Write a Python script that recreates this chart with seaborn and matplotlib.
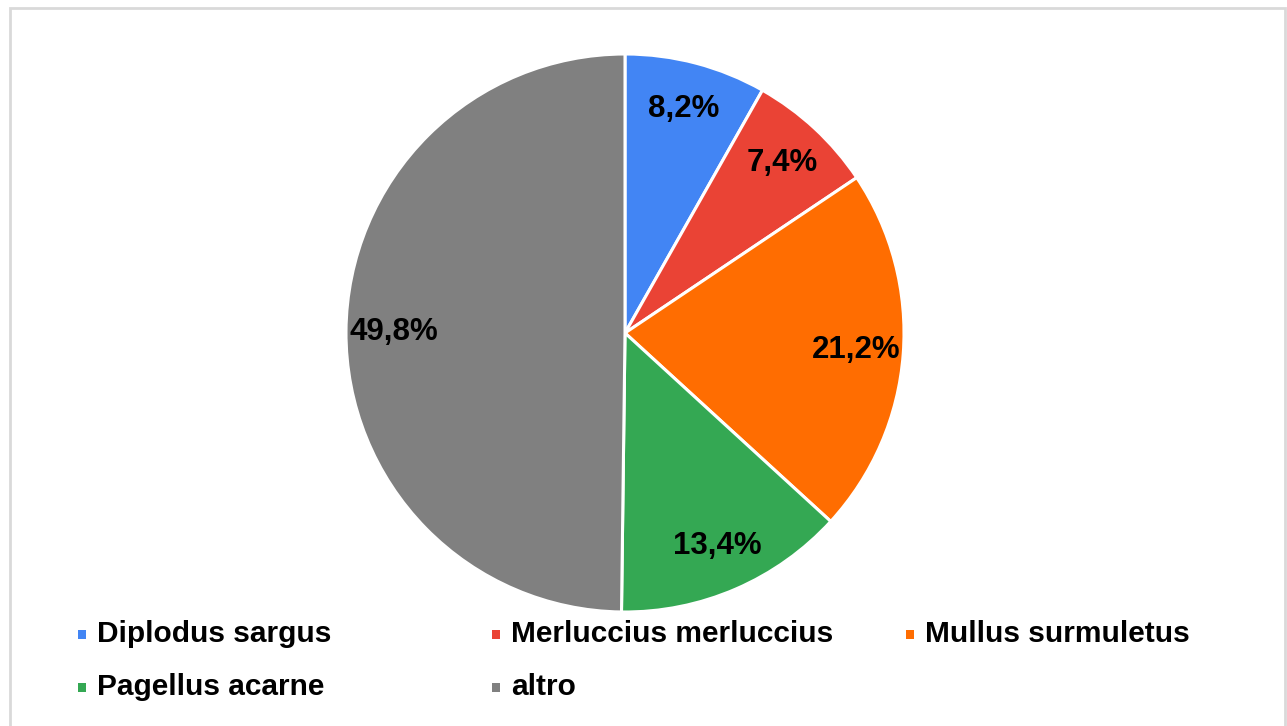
import matplotlib.pyplot as plt
import matplotlib.patches as mpatches
import seaborn as sns

species = [
    "Diplodus sargus",
    "Merluccius merluccius",
    "Mullus surmuletus",
    "Pagellus acarne",
    "altro",
]
shares = [8.2, 7.4, 21.2, 13.4, 49.8]
colors = ["#4285F4", "#EA4335", "#FF6D01", "#34A853", "#808080"]

sns.set_theme(style="white")
plt.rcParams['font.family'] = ['Liberation Sans', 'DejaVu Sans']

W, H = 1287, 726
fig = plt.figure(figsize=(W / 100, H / 100), dpi=100)

# light frame around the chart (bottom edge runs off the picture)
fig.patches.append(mpatches.Rectangle(
    (10 / W, -0.05), 1275 / W, 1.05 - 8 / H,
    transform=fig.transFigure, fill=False,
    edgecolor="#d9d9d9", linewidth=2
))

# pie
cx, cy, r = 625, 333, 279
ax = fig.add_axes([(cx - r) / W, (H - cy - r) / H, 2 * r / W, 2 * r / H])
palette = sns.color_palette(colors)

wedges, texts, autotexts = ax.pie(
    shares,
    colors=palette,
    startangle=90,
    counterclock=False,
    autopct=lambda p: f"{p:.1f}%".replace(".", ","),
    pctdistance=0.83,
    wedgeprops=dict(edgecolor="white", linewidth=2.2),
    textprops=dict(fontsize=22.5, fontweight="bold", color="black"),
)
ax.set_xlim(-1.0, 1.0)
ax.set_ylim(-1.0, 1.0)
ax.set_axis_off()

# legend at the bottom, 3 columns
col_x = [97, 511, 925]
row_y = [634, 687]
for i, (name, col) in enumerate(zip(species, colors)):
    x = col_x[i % 3]
    y = row_y[i // 3]
    fig.patches.append(mpatches.Rectangle(
        ((x - 19) / W, (H - y - 5) / H), 8 / W, 9 / H,
        transform=fig.transFigure, facecolor=col, edgecolor="none"
    ))
    fig.text(x / W, (H - y) / H, name, fontsize=21.5, fontweight="bold",
             ha="left", va="center", color="black")

fig.savefig("out.png", dpi=100, facecolor="white")
